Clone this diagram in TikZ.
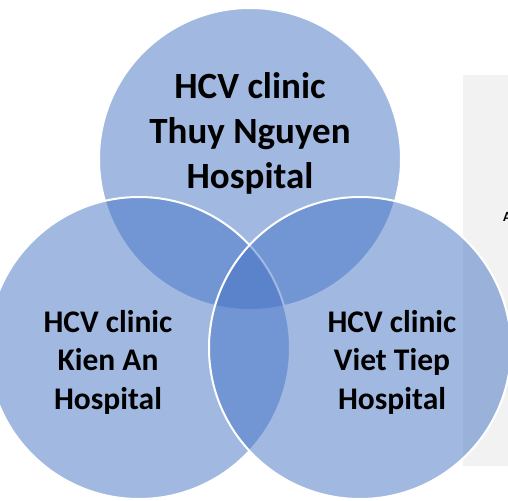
\documentclass[tikz,border=0pt]{standalone}
\usepackage{fontspec}
\setmainfont{Carlito}
\definecolor{vennblue}{RGB}{68,114,196}
\definecolor{panelgray}{RGB}{242,242,242}
\begin{document}
\begin{tikzpicture}[x=1pt,y=-1pt,
  venn/.style={fill=vennblue,fill opacity=0.5,draw=white,draw opacity=1,line width=2pt},
  biglabel/.style={align=center,text=black,font=\fontsize{37}{45}\selectfont\bfseries,inner sep=0pt},
  smalllabel/.style={align=center,text=black,font=\fontsize{31.5}{38.5}\selectfont\bfseries,inner sep=0pt}]
  \useasboundingbox (0,0) rectangle (508,500);
  \clip (0,0) rectangle (508,500);
  % side panel behind the circles
  \fill[panelgray] (463,75) rectangle (520,466);
  \node[anchor=base west,font=\fontsize{14}{17}\selectfont\bfseries,inner sep=0pt] (paneltext) at (503,221) {A};
  % the three overlapping circles
  \path[venn] (250,159) circle[radius=151];
  \path[venn] (139,348) circle[radius=151];
  \path[venn] (360,348) circle[radius=151];
  % labels
  \node[biglabel] (top) at (250,133) {HCV clinic\\Thuy Nguyen\\Hospital};
  \node[smalllabel] (left) at (108,362) {HCV clinic\\Kien An\\Hospital};
  \node[smalllabel] (right) at (392,362) {HCV clinic\\Viet Tiep\\Hospital};
\end{tikzpicture}
\end{document}
